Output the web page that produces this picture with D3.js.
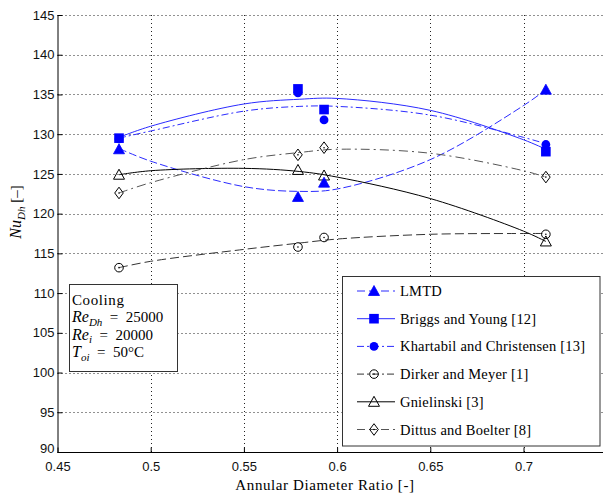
<!DOCTYPE html>
<html><head><meta charset="utf-8">
<script src="https://cdn.jsdelivr.net/npm/d3@7"></script>
<style>
html,body{margin:0;padding:0;background:#fff;}
svg{display:block;}
</style></head>
<body>
<svg id="chart" width="603" height="496"></svg>
<script>
// ---------- data ----------
const xPoints = [0.483, 0.579, 0.593, 0.712];
const lmtd       = [128.1, 122.1, 123.9, 135.6];
const briggs     = [129.5, 135.7, 133.1, 127.8];
const khartabil  = [129.4, 135.2, 131.8, 128.7];
const dirker     = [113.2, 115.8, 117.0, 117.4];
const gnielinski = [124.9, 125.5, 124.8, 116.5];
const dittus     = [122.6, 127.4, 128.3, 124.6];

// fitted trend lines
const fitX          = [0.483, 0.5, 0.55, 0.58, 0.6, 0.65, 0.7, 0.712];
const lmtdFit       = [128.2, 126.6, 123.4, 122.8, 123.1, 126.8, 133.6, 135.6];
const briggsFit     = [129.6, 131.0, 133.8, 134.4, 134.5, 133.0, 129.3, 128.1];
const khartabilFit  = [129.5, 130.4, 132.9, 133.5, 133.5, 132.4, 129.6, 128.8];
const dirkerFit     = [113.2, 114.0, 115.5, 116.3, 116.8, 117.4, 117.5, 117.5];
const gnielinskiFit = [124.9, 125.4, 125.7, 125.3, 124.6, 121.9, 117.8, 116.5];
const dittusFit     = [122.6, 123.9, 126.8, 127.7, 128.1, 127.6, 125.4, 124.6];

const xTicks = [0.45, 0.5, 0.55, 0.6, 0.65, 0.7];
const yTicks = [90, 95, 100, 105, 110, 115, 120, 125, 130, 135, 140, 145];
const seriesNames = ["LMTD", "Briggs and Young [12]", "Khartabil and Christensen [13]",
                     "Dirker and Meyer [1]", "Gnielinski [3]", "Dittus and Boelter [8]"];

// ---------- layout ----------
const svg = d3.select("#chart");
const L = 57.5, T = 15, B = 452;
const x = d3.scaleLinear().domain([0.45, 0.75]).range([L, 616.7]);
const y = d3.scaleLinear().domain([90, 145]).range([B, T]);

const series = [
  {name: seriesNames[0], v: lmtd, fit: lmtdFit, color: "#0000ff", line: "#2b2bff", dash: "8,3", legDash: "8,4", marker: "triFill"},
  {name: seriesNames[1], v: briggs, fit: briggsFit, color: "#0000ff", line: "#2b2bff", dash: null, legDash: null, marker: "square"},
  {name: seriesNames[2], v: khartabil, fit: khartabilFit, color: "#0000ff", line: "#2b2bff", dash: "7,3,2,3", legDash: "7,3,2,3", marker: "circleFill"},
  {name: seriesNames[3], v: dirker, fit: dirkerFit, color: "#000", line: "#333", dash: "9,4", legDash: "7,3,2,3", marker: "circleOpen"},
  {name: seriesNames[4], v: gnielinski, fit: gnielinskiFit, color: "#000", line: "#000", dash: null, legDash: null, marker: "triOpen"},
  {name: seriesNames[5], v: dittus, fit: dittusFit, color: "#000", line: "#555", dash: "9,4,2,4", legDash: "8,4", marker: "diamond"}
];

// ---------- grid ----------
const grid = svg.append("g").attr("stroke", "#222").attr("stroke-width", 1).attr("stroke-dasharray", "1,3");
xTicks.filter(t => t > 0.45).forEach(t => {
  grid.append("line").attr("x1", Math.round(x(t)) + 0.5).attr("x2", Math.round(x(t)) + 0.5)
    .attr("y1", T).attr("y2", B);
});
yTicks.filter(t => t > 90).forEach(t => {
  grid.append("line").attr("x1", L).attr("x2", 603)
    .attr("y1", Math.round(y(t)) + 0.5).attr("y2", Math.round(y(t)) + 0.5);
});

// ---------- axes ----------
const xAxis = d3.axisBottom(x).tickValues(xTicks).tickSizeInner(-5).tickSizeOuter(0)
  .tickFormat(d => d3.format("")(+d.toFixed(2)));
const yAxis = d3.axisLeft(y).tickValues(yTicks).tickSizeInner(-5).tickSizeOuter(0);

const gx = svg.append("g").attr("transform", `translate(0,${B + 0.5})`).call(xAxis);
gx.select(".domain").attr("d", `M${L},0H603`);
const gy = svg.append("g").attr("transform", `translate(${L},0)`).call(yAxis);
[gx, gy].forEach(g => {
  g.selectAll("text").attr("font-family", "Liberation Sans, Arial, sans-serif")
    .attr("font-size", 13).attr("fill", "#111");
  g.select(".domain").attr("stroke", "#000");
  g.selectAll(".tick line").attr("stroke", "#000");
});
gx.selectAll(".tick text").attr("dy", "1.2em");
gy.selectAll(".tick text").attr("x", -3);
gy.selectAll(".tick text").filter(d => d === 90).attr("dy", "0.05em");

// ---------- markers ----------
function drawMarker(g, type, cx, cy, color) {
  switch (type) {
    case "triFill":
      g.append("path").attr("d", `M${cx},${cy - 5.5}L${cx + 5.5},${cy + 4.5}L${cx - 5.5},${cy + 4.5}Z`)
        .attr("fill", color).attr("stroke", color).attr("stroke-width", 0.8); break;
    case "triOpen":
      g.append("path").attr("d", `M${cx},${cy - 5.5}L${cx + 5.5},${cy + 4.5}L${cx - 5.5},${cy + 4.5}Z`)
        .attr("fill", "none").attr("stroke", color).attr("stroke-width", 1); break;
    case "square":
      g.append("rect").attr("x", cx - 4.8).attr("y", cy - 4.8).attr("width", 9.6).attr("height", 9.6)
        .attr("fill", color); break;
    case "circleFill":
      g.append("circle").attr("cx", cx).attr("cy", cy).attr("r", 4.4).attr("fill", color); break;
    case "circleOpen":
      g.append("circle").attr("cx", cx).attr("cy", cy).attr("r", 4.3).attr("fill", "none")
        .attr("stroke", color).attr("stroke-width", 1);
      g.append("circle").attr("cx", cx).attr("cy", cy).attr("r", 0.8).attr("fill", color); break;
    case "diamond":
      g.append("path").attr("d", `M${cx},${cy - 5.8}L${cx + 4.3},${cy}L${cx},${cy + 5.8}L${cx - 4.3},${cy}Z`)
        .attr("fill", "none").attr("stroke", color).attr("stroke-width", 1);
      g.append("circle").attr("cx", cx).attr("cy", cy).attr("r", 0.8).attr("fill", color); break;
  }
}

// ---------- lines & points ----------
const lineGen = d3.line().curve(d3.curveCatmullRom.alpha(0.5)).x(d => x(d[0])).y(d => y(d[1]));
series.forEach(s => {
  svg.append("path").datum(fitX.map((xv, i) => [xv, s.fit[i]]))
    .attr("d", lineGen).attr("fill", "none").attr("stroke", s.line).attr("stroke-width", 1)
    .attr("stroke-dasharray", s.dash);
});
series.slice().reverse().forEach(s => {
  const g = svg.append("g");
  xPoints.forEach((xv, i) => drawMarker(g, s.marker, x(xv), y(s.v[i]), s.color));
});

// ---------- annotation box ----------
const serif = "Liberation Serif, Times New Roman, serif";
svg.append("rect").attr("x", 69.5).attr("y", 284.5).attr("width", 108).attr("height", 87)
  .attr("fill", "#fff").attr("stroke", "#333").attr("stroke-width", 1);
const ann = svg.append("g").attr("font-family", serif).attr("font-size", 15).attr("fill", "#000");
ann.append("text").attr("x", 72).attr("y", 305).attr("letter-spacing", 0.6).text("Cooling");
function annLine(yy, sub, val) {
  const t = ann.append("text").attr("x", 72).attr("y", yy);
  t.append("tspan").attr("font-style", "italic").attr("font-size", 16).text(sub[0]);
  t.append("tspan").attr("font-style", "italic").attr("font-size", 11).attr("dy", 3.5).text(sub[1]);
  t.append("tspan").attr("dy", -3.5).text("\u2002=\u2002" + val);
}
annLine(322, ["Re", "Dh"], "25000");
annLine(339.5, ["Re", "i"], "20000");
annLine(357, ["T", "oi"], "50°C");

// ---------- legend ----------
svg.append("rect").attr("x", 342.5).attr("y", 276.5).attr("width", 257.5).attr("height", 169.5)
  .attr("fill", "#fff").attr("stroke", "#333").attr("stroke-width", 1);
const leg = svg.append("g");
series.forEach((s, i) => {
  const ly = 291 + i * 27.7;
  leg.append("line").attr("x1", 357).attr("x2", 395).attr("y1", ly).attr("y2", ly)
    .attr("stroke", s.line).attr("stroke-width", 1).attr("stroke-dasharray", s.legDash);
  drawMarker(leg, s.marker, 374, ly, s.color);
  leg.append("text").attr("x", 400).attr("y", ly + 5).attr("font-family", serif)
    .attr("font-size", 14.5).attr("letter-spacing", 0.2).attr("fill", "#000").text(s.name);
});

// ---------- axis titles ----------
svg.append("text").attr("x", 325).attr("y", 490).attr("text-anchor", "middle")
  .attr("font-family", serif).attr("font-size", 15).attr("letter-spacing", 0.6).attr("fill", "#000")
  .text("Annular Diameter Ratio [-]");
const yl = svg.append("text").attr("transform", "translate(21,212) rotate(-90)")
  .attr("text-anchor", "middle").attr("font-family", serif).attr("font-size", 15).attr("fill", "#000");
yl.append("tspan").attr("font-style", "italic").attr("font-size", 16).text("Nu");
yl.append("tspan").attr("font-style", "italic").attr("font-size", 11).attr("dy", 3.5).text("Dh");
yl.append("tspan").attr("dy", -3.5).text(" [–]");
</script>
</body></html>
